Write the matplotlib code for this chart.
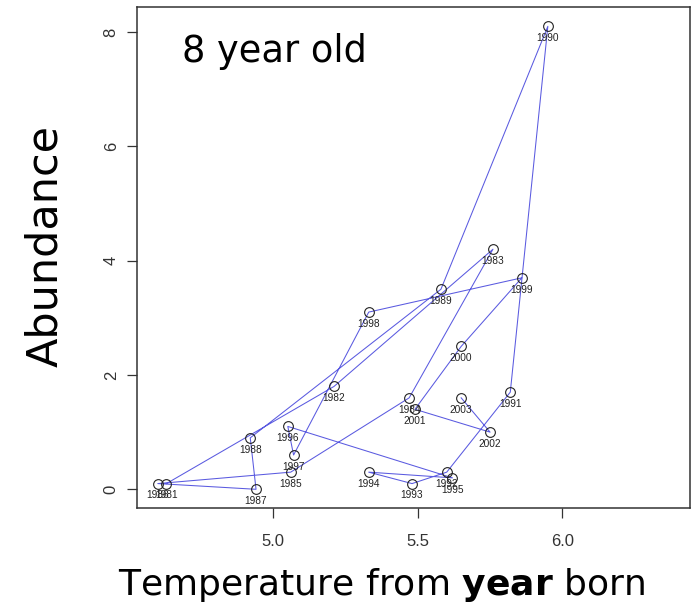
import numpy as np
import matplotlib
matplotlib.use("Agg")
from matplotlib import pyplot as plt

# abundance of 8 year olds against temperature in the year they were born
years = [1981, 1982, 1983, 1984, 1985, 1986, 1987, 1988, 1989, 1990, 1991, 1992,
         1993, 1994, 1995, 1996, 1997, 1998, 1999, 2000, 2001, 2002, 2003]
temperature = [4.63, 5.21, 5.76, 5.47, 5.06, 4.60, 4.94, 4.92, 5.58, 5.95, 5.82, 5.60,
               5.48, 5.33, 5.62, 5.05, 5.07, 5.33, 5.86, 5.65, 5.49, 5.75, 5.65]
abundance = [0.1, 1.8, 4.2, 1.6, 0.3, 0.1, 0.0, 0.9, 3.5, 8.1, 1.7, 0.3,
             0.1, 0.3, 0.2, 1.1, 0.6, 3.1, 3.7, 2.5, 1.4, 1.0, 1.6]

xticks = [5.0, 5.5, 6.0]
yticks = [0, 2, 4, 6, 8]

W, H = 700, 610
fig = plt.figure(figsize=(W / 100, H / 100), dpi=100)

# plot box in pixel coordinates
left, right, top, bottom = 136.7, 690, 7, 507.7
ax = fig.add_axes([left / W, 1 - bottom / H, (right - left) / W, (bottom - top) / H])

ax.plot(temperature, abundance, color="#5a5ae0", lw=0.75, zorder=2)
ax.plot(temperature, abundance, ls="none", marker="o", ms=7, mfc="none",
        mec="#222222", mew=0.8, zorder=3)
for t, a, yr in zip(temperature, abundance, years):
    ax.annotate(str(yr), (t, a), xytext=(0, -8.5), textcoords="offset points",
                ha="center", va="center", fontsize=7.3, color="#222222",
                family="Liberation Sans", zorder=4)

ax.set_xlim(4.527, 6.442)
ax.set_ylim(-0.322, 8.438)
ax.set_xticks(xticks)
ax.set_xticklabels(["%.1f" % v for v in xticks], family="Liberation Sans", fontsize=12)
ax.set_yticks(yticks)
ax.set_yticklabels([str(v) for v in yticks], family="Liberation Sans", fontsize=12,
                   rotation=90, va="center")
ax.tick_params(axis="x", length=7, width=0.9, pad=12, colors="#333333")
ax.tick_params(axis="y", length=7, width=0.9, pad=6, colors="#333333")
for s in ax.spines.values():
    s.set_linewidth(1.1)
    s.set_color("#333333")

fig.text(182 / W, 1 - 52 / H, "8 year old", fontsize=26.5, ha="left", va="center",
         family="DejaVu Sans")
fig.text(45 / W, 1 - 246 / H, "Abundance", fontsize=31, rotation=90,
         ha="center", va="center", family="DejaVu Sans")
fig.text(382 / W, 1 - 585 / H, r"Temperature from $\bf{year}$ born", fontsize=26,
         ha="center", va="center", family="DejaVu Sans")

fig.savefig("out.png", dpi=100)
